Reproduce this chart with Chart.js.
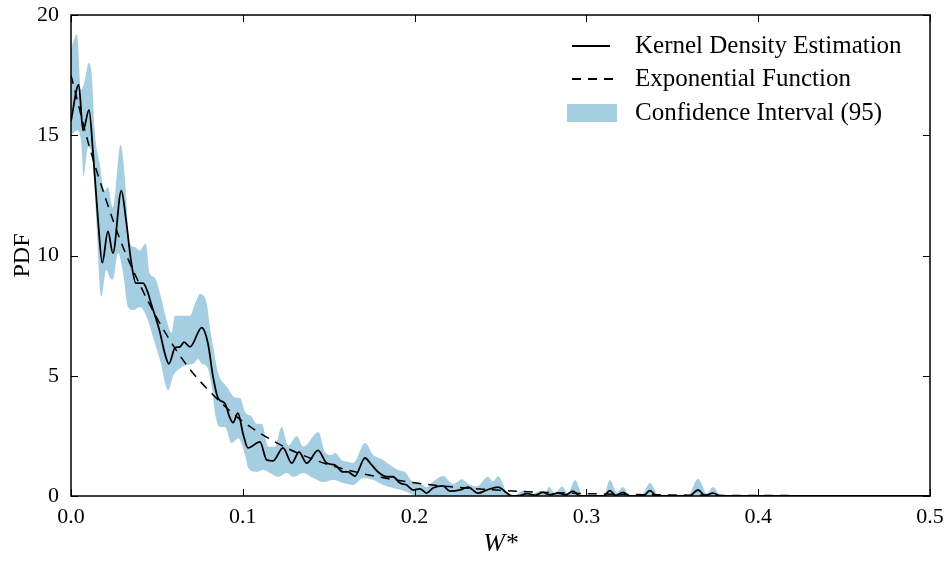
<!DOCTYPE html>
<html>
<head>
<meta charset="utf-8">
<script src="https://cdn.jsdelivr.net/npm/chart.js@4.4.0/dist/chart.umd.min.js"></script>
<style>
  html, body { margin: 0; padding: 0; background: #fff; }
  #wrap { width: 950px; height: 561px; }
</style>
</head>
<body>
<div id="wrap"><canvas id="pdfChart"></canvas></div>
<script>
// tick values
const xTicks = [0, 0.1, 0.2, 0.3, 0.4, 0.5];
const yTicks = [0, 5, 10, 15, 20];

// kernel density estimation
const kdeW = [0, 0.0045, 0.007, 0.0105, 0.0128, 0.0157, 0.0182, 0.0215, 0.0244, 0.0293,
  0.032, 0.0349, 0.0378, 0.0419, 0.0448, 0.0466, 0.0489, 0.0518, 0.0547, 0.057,
  0.0605, 0.0634, 0.0658, 0.0693, 0.0761, 0.0797, 0.0827, 0.0856, 0.0896, 0.0925,
  0.0943, 0.0972, 0.1001, 0.103, 0.11, 0.1139, 0.1176, 0.1234, 0.1285, 0.1327,
  0.1372, 0.1438, 0.1488, 0.1537, 0.1583, 0.1612, 0.1653, 0.1711, 0.175, 0.1787,
  0.1838, 0.1874, 0.1915, 0.1954, 0.1991, 0.2031, 0.207, 0.2107, 0.2165, 0.2206,
  0.2264, 0.2311, 0.2369, 0.2421, 0.2486, 0.2538, 0.2567, 0.2614, 0.2654, 0.27,
  0.2747, 0.2788, 0.2835, 0.288, 0.2922, 0.2963, 0.31, 0.3137, 0.317, 0.3213,
  0.325, 0.333, 0.337, 0.341, 0.36, 0.365, 0.369, 0.3737, 0.378, 0.5];
const kdePdf = [15.6, 17.1, 15.2, 16.05, 14.3, 11.5, 9.7, 11.0, 10.1, 12.7,
  11.5, 9.8, 8.85, 8.85, 8.45, 8.0, 7.5, 6.8, 5.9, 5.5,
  6.15, 6.2, 6.4, 6.2, 7.0, 6.35, 4.95, 4.07, 3.85, 3.25,
  3.05, 3.45, 2.6, 2.0, 2.25, 1.5, 1.46, 2.0, 1.37, 1.83,
  1.37, 1.9, 1.37, 1.29, 1.0, 1.0, 0.83, 1.58, 1.29, 1.0,
  0.8, 0.8, 0.54, 0.46, 0.25, 0.3, 0.12, 0.33, 0.42, 0.2,
  0.25, 0.37, 0.12, 0.25, 0.37, 0.12, 0.0, 0.02, 0.1, 0.03,
  0.15, 0.05, 0.12, 0.05, 0.2, 0.0, 0.0, 0.22, 0.02, 0.15,
  0.0, 0.0, 0.22, 0.0, 0.0, 0.25, 0.02, 0.12, 0.0, 0.0];

// exponential fit (dashed)
const expW = [0, 0.01, 0.02, 0.03, 0.04, 0.05, 0.06, 0.07, 0.08, 0.09, 0.1, 0.12, 0.14,
  0.16, 0.18, 0.2, 0.22, 0.24, 0.26, 0.28, 0.3, 0.33, 0.36, 0.4, 0.45, 0.5];
const expPdf = [17.5, 14.7, 12.4, 10.4, 8.8, 7.4, 6.2, 5.2, 4.4, 3.7, 3.1, 2.2, 1.55,
  1.1, 0.78, 0.55, 0.39, 0.28, 0.2, 0.14, 0.1, 0.06, 0.035, 0.02, 0.01, 0.004];

// confidence band, upper edge
const upperW = [0, 0.0035, 0.0058, 0.0081, 0.0103, 0.0122, 0.0138, 0.0167, 0.0196, 0.0215,
  0.0244, 0.0289, 0.0313, 0.0342, 0.0371, 0.04, 0.0435, 0.0458, 0.0489, 0.0528,
  0.0557, 0.0586, 0.0605, 0.0693, 0.0722, 0.0751, 0.079, 0.0809, 0.0828, 0.0857,
  0.0906, 0.0955, 0.0984, 0.1013, 0.1052, 0.1081, 0.111, 0.1148, 0.1187, 0.1226,
  0.1265, 0.1314, 0.1352, 0.144, 0.1478, 0.1517, 0.1537, 0.1576, 0.1614, 0.1643,
  0.1711, 0.176, 0.1818, 0.1857, 0.1905, 0.1944, 0.1992, 0.2031, 0.207, 0.2107,
  0.2165, 0.2224, 0.2276, 0.2311, 0.2363, 0.2427, 0.2456, 0.2486, 0.2544, 0.2561,
  0.2591, 0.263, 0.267, 0.273, 0.2759, 0.2782, 0.2817, 0.2858, 0.2893, 0.2934,
  0.298, 0.31, 0.3137, 0.3178, 0.3213, 0.3254, 0.3318, 0.337, 0.3423, 0.359,
  0.365, 0.3702, 0.3737, 0.3783, 0.5];
const upperPdf = [18.6, 19.2, 16.9, 17.3, 18.0, 17.4, 15.2, 13.85, 12.7, 12.85,
  12.0, 14.6, 13.3, 10.5, 10.35, 10.2, 10.5, 9.27, 9.06, 8.15,
  7.3, 6.78, 7.5, 7.5, 8.0, 8.4, 8.0, 7.0, 6.2, 5.1,
  4.55, 4.1, 4.07, 3.5, 3.3, 3.0, 3.0, 2.05, 2.05, 2.87,
  2.1, 2.5, 2.05, 2.66, 1.83, 1.7, 1.79, 1.5, 1.41, 1.37,
  2.2, 1.7, 1.5, 1.29, 1.08, 1.0, 0.58, 0.54, 0.37, 0.6,
  0.83, 0.5, 0.7, 0.5, 0.4, 0.8, 0.6, 0.82, 0.05, 0.0,
  0.05, 0.22, 0.05, 0.2, 0.1, 0.37, 0.12, 0.4, 0.12, 0.67,
  0.0, 0.0, 0.67, 0.15, 0.37, 0.0, 0.0, 0.54, 0.0, 0.0,
  0.72, 0.1, 0.37, 0.0, 0.0];

// confidence band, lower edge
const lowerW = [0, 0.0035, 0.0058, 0.0074, 0.0099, 0.0128, 0.0147, 0.0176, 0.0205, 0.0225,
  0.0244, 0.0274, 0.0303, 0.0332, 0.0361, 0.0402, 0.0441, 0.0479, 0.0518, 0.0566,
  0.0595, 0.0634, 0.0673, 0.0712, 0.0741, 0.0761, 0.079, 0.0819, 0.0838, 0.0867,
  0.0896, 0.0935, 0.0974, 0.1013, 0.1032, 0.1081, 0.1119, 0.1158, 0.1207, 0.1256,
  0.1294, 0.1352, 0.141, 0.1469, 0.1527, 0.1585, 0.1643, 0.1701, 0.176, 0.1818,
  0.1876, 0.1954, 0.1992, 0.2031, 0.5];
const lowerPdf = [15.0, 15.2, 14.8, 13.3, 14.5, 13.85, 11.5, 8.3, 9.4, 9.1,
  9.0, 10.1, 9.27, 7.86, 7.73, 7.86, 7.44, 6.57, 5.65, 4.4,
  5.0, 5.3, 5.45, 5.5, 5.7, 5.5, 5.4, 4.55, 3.45, 2.87,
  2.87, 2.2, 2.4, 1.7, 1.16, 1.0, 1.08, 0.96, 0.8, 0.96,
  0.8, 0.96, 0.75, 0.58, 0.67, 0.54, 0.46, 0.75, 0.67, 0.46,
  0.33, 0.17, 0.04, 0.0, 0.0];

const seriesNames = ['Kernel Density Estimation', 'Exponential Function', 'Confidence Interval (95)'];

const CI_BLUE = '#a6cee3';
const SERIF = "'Liberation Serif', 'DejaVu Serif', serif";

function pts(xs, ys) {
    return xs.map((x, i) => ({ x: x, y: ys[i] }));
}

// frame + inward ticks on all four sides, like the classic matplotlib look
const frameTicks = {
    id: 'frameTicks',
    afterDraw(chart) {
        const { ctx, chartArea: a, scales } = chart;
        const len = 7;
        ctx.save();
        ctx.strokeStyle = '#000';
        ctx.lineWidth = 1;
        ctx.beginPath();
        xTicks.forEach(v => {
            const px = Math.round(scales.x.getPixelForValue(v)) + 0.5;
            ctx.moveTo(px, a.bottom); ctx.lineTo(px, a.bottom - len);
            ctx.moveTo(px, a.top); ctx.lineTo(px, a.top + len);
        });
        yTicks.forEach(v => {
            const py = Math.round(scales.y.getPixelForValue(v)) + 0.5;
            ctx.moveTo(a.left, py); ctx.lineTo(a.left + len, py);
            ctx.moveTo(a.right, py); ctx.lineTo(a.right - len, py);
        });
        ctx.stroke();
        ctx.lineWidth = 1.5;
        ctx.strokeRect(a.left, a.top, a.right - a.left, a.bottom - a.top);
        ctx.restore();
    }
};

// legend in the upper right corner of the plot
const insideLegend = {
    id: 'insideLegend',
    afterDraw(chart) {
        const { ctx, chartArea: a } = chart;
        const x0 = a.right - 358, x1 = a.right - 320, tx = a.right - 295;
        const rows = [a.top + 31, a.top + 64, a.top + 98];
        ctx.save();
        ctx.strokeStyle = '#000';
        ctx.lineWidth = 1.8;
        ctx.beginPath();
        ctx.moveTo(x0, rows[0]); ctx.lineTo(x1, rows[0]);
        ctx.stroke();
        ctx.setLineDash([9, 7]);
        ctx.beginPath();
        ctx.moveTo(x0, rows[1]); ctx.lineTo(x1 + 4, rows[1]);
        ctx.stroke();
        ctx.setLineDash([]);
        ctx.fillStyle = CI_BLUE;
        ctx.fillRect(a.right - 363, rows[2] - 9, 50, 18);
        ctx.fillStyle = '#000';
        ctx.font = '25px ' + SERIF;
        ctx.textBaseline = 'middle';
        ctx.textAlign = 'left';
        seriesNames.forEach((n, i) => ctx.fillText(n, tx, rows[i]));
        ctx.restore();
    }
};

new Chart(document.getElementById('pdfChart'), {
    type: 'line',
    data: {
        datasets: [
            { label: seriesNames[0], data: pts(kdeW, kdePdf), borderColor: '#000', borderWidth: 1.8,
              pointRadius: 0, cubicInterpolationMode: 'monotone', fill: false },
            { label: seriesNames[1], data: pts(expW, expPdf), borderColor: '#000', borderWidth: 1.5,
              borderDash: [9, 7], pointRadius: 0, cubicInterpolationMode: 'monotone', fill: false },
            { label: seriesNames[2], data: pts(upperW, upperPdf), borderWidth: 0, borderColor: 'rgba(0,0,0,0)',
              backgroundColor: CI_BLUE, pointRadius: 0, cubicInterpolationMode: 'monotone', fill: '+1' },
            { label: 'lower', data: pts(lowerW, lowerPdf), borderWidth: 0, borderColor: 'rgba(0,0,0,0)',
              pointRadius: 0, cubicInterpolationMode: 'monotone', fill: false }
        ]
    },
    options: {
        responsive: true,
        maintainAspectRatio: false,
        animation: false,
        layout: { padding: { left: 0, right: 20, top: 15, bottom: 0 } },
        plugins: { legend: { display: false }, tooltip: { enabled: false } },
        scales: {
            x: {
                type: 'linear', min: 0, max: 0.5,
                grid: { display: false, drawTicks: false },
                border: { display: false },
                afterFit: s => { s.height = 65; s.paddingLeft = 0; s.paddingRight = 0; },
                afterBuildTicks: s => { s.ticks = xTicks.map(v => ({ value: v })); },
                ticks: { color: '#000', padding: 8, font: { family: SERIF, size: 22 },
                         callback: v => v.toFixed(1), maxRotation: 0 },
                title: { display: true, text: 'W*', color: '#000', padding: { top: 0, bottom: 1 },
                         font: { family: SERIF, size: 26, style: 'italic' } }
            },
            y: {
                min: 0, max: 20,
                grid: { display: false, drawTicks: false },
                border: { display: false },
                afterFit: s => { s.width = 71; s.paddingTop = 0; s.paddingBottom = 0; },
                afterBuildTicks: s => { s.ticks = yTicks.map(v => ({ value: v })); },
                ticks: { color: '#000', padding: 12, font: { family: SERIF, size: 22 } },
                title: { display: true, text: 'PDF', color: '#000', padding: { top: 8, bottom: 0 },
                         font: { family: SERIF, size: 24 } }
            }
        }
    },
    plugins: [frameTicks, insideLegend]
});
</script>
</body>
</html>
